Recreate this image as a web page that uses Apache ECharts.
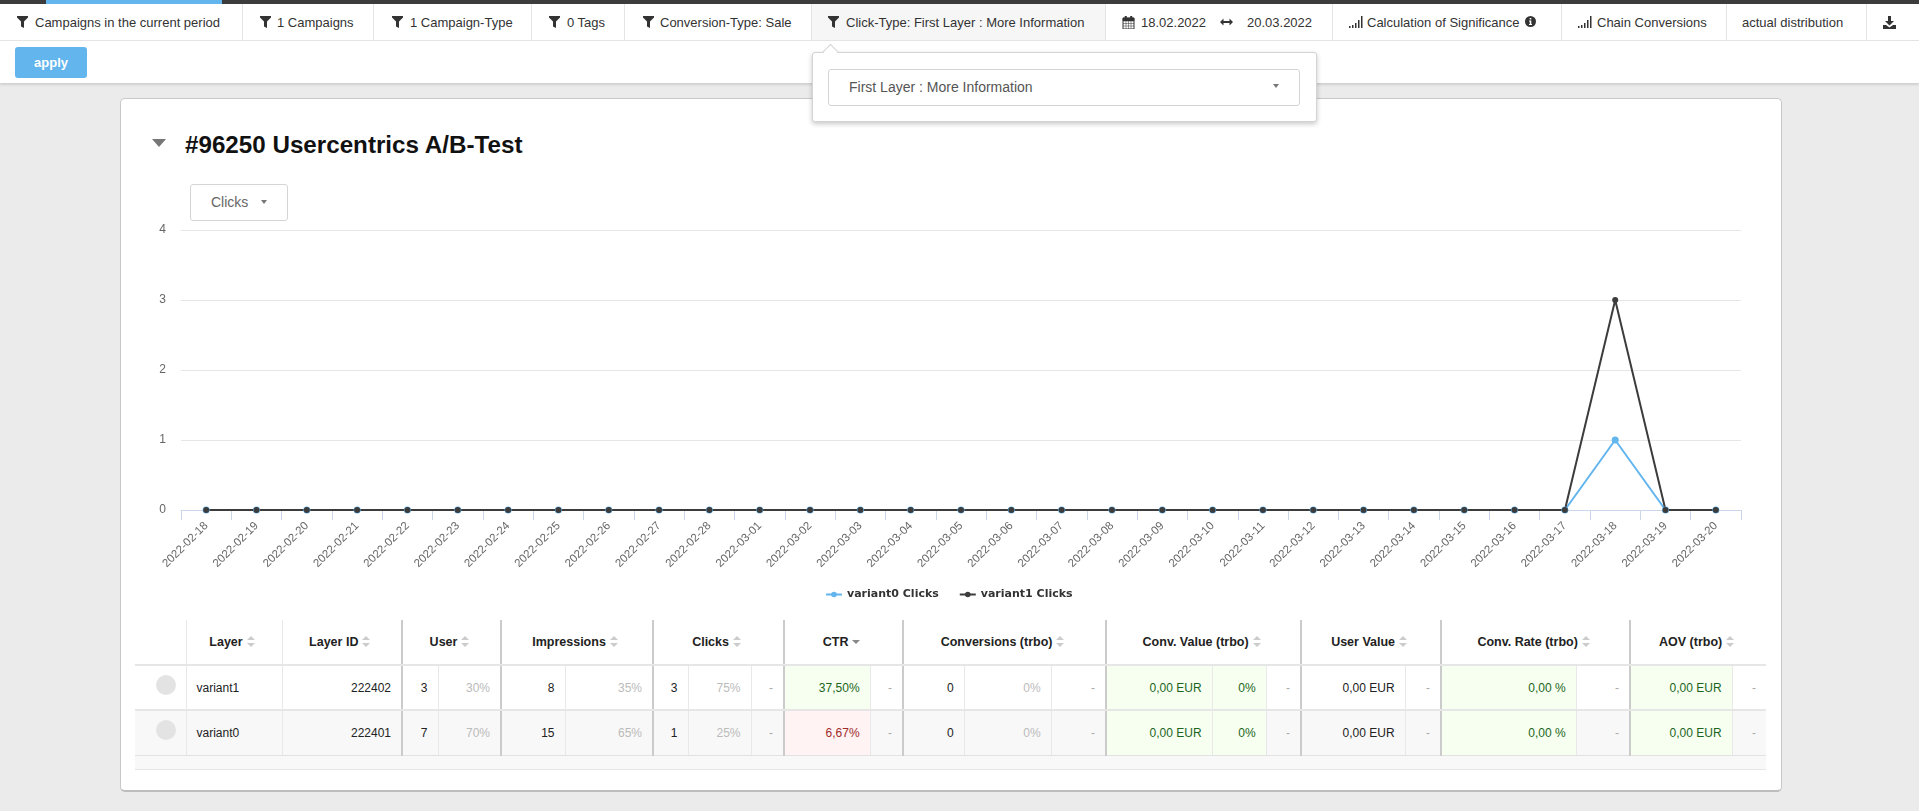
<!DOCTYPE html>
<html>
<head>
<meta charset="utf-8">
<title>Usercentrics A/B-Test</title>
<script src="https://cdn.jsdelivr.net/npm/echarts@6/dist/echarts.min.js"></script>
<style>
  html, body { margin: 0; padding: 0; width: 1919px; height: 811px; overflow: hidden; background: #ebebeb; font-family: "Liberation Sans", Arial, sans-serif; color: #333; }
  .abs { position: absolute; }
  #topbar { left: 0; top: 0; width: 1919px; height: 4px; background: #3c3c3c; }
  #topblue { left: 46px; top: 0; width: 176px; height: 4px; background: #63b5ee; }
  #toolbar { left: 0; top: 4px; width: 1919px; height: 79px; background: #fff; box-shadow: 0 2px 2px #d0d0d0; }
  #toolline { left: 0; top: 40px; width: 1919px; height: 1px; background: #e4e4e4; }
  #active { left: 811px; top: 4px; width: 294px; height: 36px; background: #f6f6f6; }
  .sep { top: 4px; width: 1px; height: 37px; background: #e4e4e4; }
  .tool { top: 14px; font-size: 13px; line-height: 17px; white-space: nowrap; color: #333; }
  .ico { top: 16px; }
  .ico svg { display: block; }
  #apply { left: 15px; top: 47px; width: 72px; height: 31px; background: #63b5ee; border-radius: 3px; color: #fff; font-size: 13px; font-weight: bold; text-align: center; line-height: 31px; }
  #card { left: 120px; top: 98px; width: 1660px; height: 691px; background: #fff; border: 1px solid #c8c8c8; border-bottom: 2px solid #bdbdbd; border-radius: 5px; box-sizing: content-box; }
  #title { left: 185px; top: 130px; font-size: 24.2px; line-height: 30px; font-weight: bold; color: #111; white-space: nowrap; }
  #fold { left: 152px; top: 139px; width: 0; height: 0; border-left: 7.5px solid transparent; border-right: 7.5px solid transparent; border-top: 8px solid #777; }
  #metric { left: 190px; top: 184px; height: 35px; border: 1px solid #d5d5d5; border-radius: 3px; background: #fff; font-size: 14px; line-height: 35px; color: #666; padding-left: 20px; box-sizing: content-box; width: 76px; }
  #metric i { position: absolute; left: 70px; top: 15px; width: 0; height: 0; border-left: 3.5px solid transparent; border-right: 3.5px solid transparent; border-top: 4px solid #777; }
  #chart { left: 130px; top: 215px; width: 1640px; height: 395px; }
  #popover { left: 812px; top: 52px; width: 503px; height: 68px; background: #fff; border: 1px solid #d4d4d4; border-radius: 3px; box-shadow: 0 2px 5px rgba(0,0,0,.22); z-index: 5; }
  #arrow { left: 825px; top: 46px; width: 10px; height: 10px; background: #fff; border-left: 1px solid #d4d4d4; border-top: 1px solid #d4d4d4; transform: rotate(45deg); z-index: 6; }
  #select { left: 828px; top: 69px; width: 470px; height: 35px; background: #fff; border: 1px solid #d4d4d4; border-radius: 3px; font-size: 14px; line-height: 35px; color: #555; z-index: 7; }
  #select span { position: absolute; left: 20px; }
  #select i { position: absolute; left: 444px; top: 14px; width: 0; height: 0; border-left: 3.5px solid transparent; border-right: 3.5px solid transparent; border-top: 4px solid #777; }
  table { position: absolute; left: 135px; top: 620px; width: 1631px; border-collapse: collapse; table-layout: fixed; font-size: 12px; color: #222; }
  td, th { padding: 0 10px; overflow: hidden; white-space: nowrap; box-sizing: border-box; border-left: 1px solid #e8e8e8; }
  th { height: 45px; text-align: center; font-size: 12.5px; color: #222; border-bottom: 2px solid #e6e6e6; padding-right: 14px; }
  td { height: 45px; text-align: right; border-bottom: 2px solid #e6e6e6; }
  td:first-child, th:first-child { border-left: none; }
  tr.alt td { background: #f8f8f8; border-bottom: 1px solid #e2e2e2; }
  tr.foot td { height: 14px; background: #f8f8f8; padding: 0; border-left: none; border-bottom: 1px solid #e6e6e6; }
  td.name { text-align: left; }
  td.pale { color: #bbb; }
  td.dash { color: #aaa; }
  td.good { background: #f6fff0 !important; color: #1d651d; }
  td.bad { background: #fff3f3 !important; color: #a02c2c; }
  .thick { border-left: 2px solid #cbcbcb !important; }
  .dot { display: block; width: 20px; height: 20px; border-radius: 50%; background: #e3e3e3; margin: -5px 0 0 11px; }
  .sort { display: inline-block; width: 8px; height: 11px; margin-left: 4px; position: relative; vertical-align: -1px; }
  .sort:before, .sort:after { content: ""; position: absolute; left: 0; border-left: 4px solid transparent; border-right: 4px solid transparent; }
  .sort:before { top: 0; border-bottom: 4px solid #ccc; }
  .sort:after { bottom: 0; border-top: 4px solid #ccc; }
  .sort.down:before { display: none; }
  .sort.down:after { border-top-color: #888; bottom: 3px; }
</style>
</head>
<body>
<div id="topbar" class="abs"></div>
<div id="topblue" class="abs"></div>
<div id="toolbar" class="abs"></div>
<div id="active" class="abs"></div>
<div id="toolline" class="abs"></div>
<div id="tools"></div>
<div id="apply" class="abs">apply</div>

<div id="card" class="abs"></div>
<div id="fold" class="abs"></div>
<div id="title" class="abs">#96250 Usercentrics A/B-Test</div>
<div id="chart" class="abs"></div>
<div id="metric" class="abs">Clicks<i></i></div>

<div id="popover" class="abs"></div>
<div id="arrow" class="abs"></div>
<div id="select" class="abs"><span>First Layer : More Information</span><i></i></div>

<table id="grid"></table>

<script>
// chart values
var days = ['2022-02-18', '2022-02-19', '2022-02-20', '2022-02-21', '2022-02-22', '2022-02-23', '2022-02-24', '2022-02-25',
  '2022-02-26', '2022-02-27', '2022-02-28', '2022-03-01', '2022-03-02', '2022-03-03', '2022-03-04', '2022-03-05',
  '2022-03-06', '2022-03-07', '2022-03-08', '2022-03-09', '2022-03-10', '2022-03-11', '2022-03-12', '2022-03-13',
  '2022-03-14', '2022-03-15', '2022-03-16', '2022-03-17', '2022-03-18', '2022-03-19', '2022-03-20'];
var variant0Clicks = [0, 0, 0, 0, 0, 0, 0, 0, 0, 0, 0, 0, 0, 0, 0, 0, 0, 0, 0, 0, 0, 0, 0, 0, 0, 0, 0, 0, 1, 0, 0];
var variant1Clicks = [0, 0, 0, 0, 0, 0, 0, 0, 0, 0, 0, 0, 0, 0, 0, 0, 0, 0, 0, 0, 0, 0, 0, 0, 0, 0, 0, 0, 3, 0, 0];
var yTicks = [0, 1, 2, 3, 4];

// table contents
var headLabels = ['', 'Layer', 'Layer ID', 'User', 'Impressions', 'Clicks', 'CTR', 'Conversions (trbo)', 'Conv. Value (trbo)', 'User Value', 'Conv. Rate (trbo)', 'AOV (trbo)'];
var rowVariant1 = ['', 'variant1', '222402', '3', '30%', '8', '35%', '3', '75%', '-', '37,50%', '-', '0', '0%', '-', '0,00 EUR', '0%', '-', '0,00 EUR', '-', '0,00 %', '-', '0,00 EUR', '-'];
var rowVariant0 = ['', 'variant0', '222401', '7', '70%', '15', '65%', '1', '25%', '-', '6,67%', '-', '0', '0%', '-', '0,00 EUR', '0%', '-', '0,00 EUR', '-', '0,00 %', '-', '0,00 EUR', '-'];

// layout of the page around the chart
var headSpans = [1, 1, 1, 2, 2, 3, 2, 3, 3, 2, 2, 2];
var colEdges = [135, 186, 282, 402, 438, 501, 565, 653, 688, 751, 784, 870, 903, 964, 1051, 1106, 1212, 1266, 1301, 1405, 1441, 1576, 1630, 1732, 1766];
var thickCols = [3, 5, 7, 10, 12, 15, 18, 20, 22];
var paleCols = [4, 6, 8, 13];
var dashCols = [9, 11, 14, 17, 19, 21, 23];
var goodCols = [15, 16, 20, 22];

var funnel = '<svg width="11" height="12" viewBox="0 0 11 12"><path d="M0 0H11V1.5L7 5.5V12L4 10.5V5.5L0 1.5Z" fill="#333"/></svg>';
var bars = '<svg width="14" height="12" viewBox="0 0 14 12"><path d="M0 10h1.5v2H0zM3 9h1.5v3H3zM6 7h1.5v5H6zM9 4h1.5v8H9zM12 0h1.5v12H12z" fill="#333"/></svg>';
var calendar = '<svg width="13" height="13" viewBox="0 0 13 13"><path d="M1 2h11v11H1z" fill="none" stroke="#333"/><path d="M1 2h11v3H1zM3 0h1.5v3H3zM8.5 0H10v3H8.5zM4 5v8M6.5 5v8M9 5v8M1 7.5h11M1 10h11" fill="#333" stroke="#333" stroke-width=".5"/></svg>';
var arrows = '<svg width="13" height="12" viewBox="0 -2 13 12"><path d="M0 4L3.5 0.5V3H9.5V0.5L13 4L9.5 7.5V5H3.5V7.5Z" fill="#333"/></svg>';
var info = '<svg width="11" height="11" viewBox="0 0 11 11"><circle cx="5.5" cy="5.5" r="5.5" fill="#333"/><path d="M4.7 2h1.6v1.6H4.7zM4 4.5h2.3v3.6H7V9H4v-.9h.8V5.4H4z" fill="#fff"/></svg>';
var download = '<svg width="13" height="13" viewBox="0 0 13 13"><path d="M5 0H8V5H11L6.5 9.5L2 5H5ZM0 9H3L6.5 11.5L10 9H13V13H0Z" fill="#333"/></svg>';

var sepEdges = [242, 373, 531, 624, 811, 1105, 1332, 1561, 1726, 1866];
var toolTexts = [
  ['Campaigns in the current period', 35], ['1 Campaigns', 277], ['1 Campaign-Type', 410], ['0 Tags', 567],
  ['Conversion-Type: Sale', 660], ['Click-Type: First Layer : More Information', 846], ['18.02.2022', 1141], ['20.03.2022', 1247],
  ['Calculation of Significance', 1367], ['Chain Conversions', 1597], ['actual distribution', 1742]
];
var toolIcons = [
  [funnel, 17], [funnel, 260], [funnel, 392], [funnel, 549], [funnel, 643], [funnel, 828], [calendar, 1122], [arrows, 1220],
  [bars, 1349], [info, 1525], [bars, 1578], [download, 1883]
];

function buildToolbar() {
  var html = '';
  for (var i = 0; i < sepEdges.length; i++) {
    html += '<div class="abs sep" style="left:' + sepEdges[i] + 'px"></div>';
  }
  for (var j = 0; j < toolTexts.length; j++) {
    html += '<div class="abs tool" style="left:' + toolTexts[j][1] + 'px">' + toolTexts[j][0] + '</div>';
  }
  for (var k = 0; k < toolIcons.length; k++) {
    html += '<div class="abs ico" style="left:' + toolIcons[k][1] + 'px">' + toolIcons[k][0] + '</div>';
  }
  document.getElementById('tools').innerHTML = html;
}

function buildTable() {
  var html = '<colgroup>';
  for (var c = 0; c < colEdges.length - 1; c++) {
    html += '<col style="width:' + (colEdges[c + 1] - colEdges[c]) + 'px">';
  }
  html += '</colgroup><tr>';
  var col = 0;
  for (var h = 0; h < headLabels.length; h++) {
    var cls = thickCols.indexOf(col) >= 0 ? ' class="thick"' : '';
    var icon = '';
    if (headLabels[h]) {
      icon = '<span class="sort' + (headLabels[h] == 'CTR' ? ' down' : '') + '"></span>';
    }
    html += '<th colspan="' + headSpans[h] + '"' + cls + '>' + headLabels[h] + icon + '</th>';
    col += headSpans[h];
  }
  html += '</tr>';
  html += buildRow(rowVariant1, '', 'good');
  html += buildRow(rowVariant0, 'alt', 'bad');
  html += '<tr class="foot"><td colspan="24"></td></tr>';
  document.getElementById('grid').innerHTML = html;
}

function buildRow(row, rowClass, ctrClass) {
  var html = '<tr class="' + rowClass + '">';
  for (var i = 0; i < row.length; i++) {
    var cls = [];
    if (thickCols.indexOf(i) >= 0) cls.push('thick');
    if (paleCols.indexOf(i) >= 0) cls.push('pale');
    if (dashCols.indexOf(i) >= 0) cls.push('dash');
    if (goodCols.indexOf(i) >= 0) cls.push('good');
    if (i == 10) cls.push(ctrClass);
    if (i == 1) cls.push('name');
    var text = i == 0 ? '<span class="dot"></span>' : row[i];
    html += '<td class="' + cls.join(' ') + '">' + text + '</td>';
  }
  return html + '</tr>';
}

buildToolbar();
buildTable();

var chart = echarts.init(document.getElementById('chart'), null, { renderer: 'canvas' });
chart.setOption({
  animation: false,
  color: ['#63b5ee', '#3c3c3c'],
  textStyle: { fontFamily: '"Liberation Sans", Arial, sans-serif' },
  grid: { left: 51, top: 15, width: 1560, height: 280 },
  legend: {
    top: 369,
    left: 690,
    itemWidth: 16,
    itemHeight: 7,
    itemGap: 20,
    textStyle: { fontSize: 11, fontWeight: 'bold', color: '#333', fontFamily: '"DejaVu Sans", sans-serif' }
  },
  xAxis: {
    type: 'category',
    boundaryGap: true,
    data: days,
    axisLine: { lineStyle: { color: '#ccd6eb', width: 1 } },
    axisTick: { show: true, length: 10, lineStyle: { color: '#ccd6eb' } },
    axisLabel: { interval: 0, rotate: 45, margin: 14, fontSize: 11.5, color: '#666' }
  },
  yAxis: {
    type: 'value',
    min: yTicks[0],
    max: yTicks[yTicks.length - 1],
    interval: 1,
    axisLine: { show: false },
    axisTick: { show: false },
    axisLabel: { margin: 15, fontSize: 12, color: '#666', padding: [8, 0, 0, 0] },
    splitLine: { lineStyle: { color: '#e6e6e6' } }
  },
  series: [
    { name: 'variant0 Clicks', type: 'line', data: variant0Clicks, symbol: 'circle', symbolSize: 7, showSymbol: true, lineStyle: { width: 2 } },
    { name: 'variant1 Clicks', type: 'line', data: variant1Clicks, symbol: 'circle', symbolSize: 6, showSymbol: true, lineStyle: { width: 2 } }
  ]
});
</script>
</body>
</html>
